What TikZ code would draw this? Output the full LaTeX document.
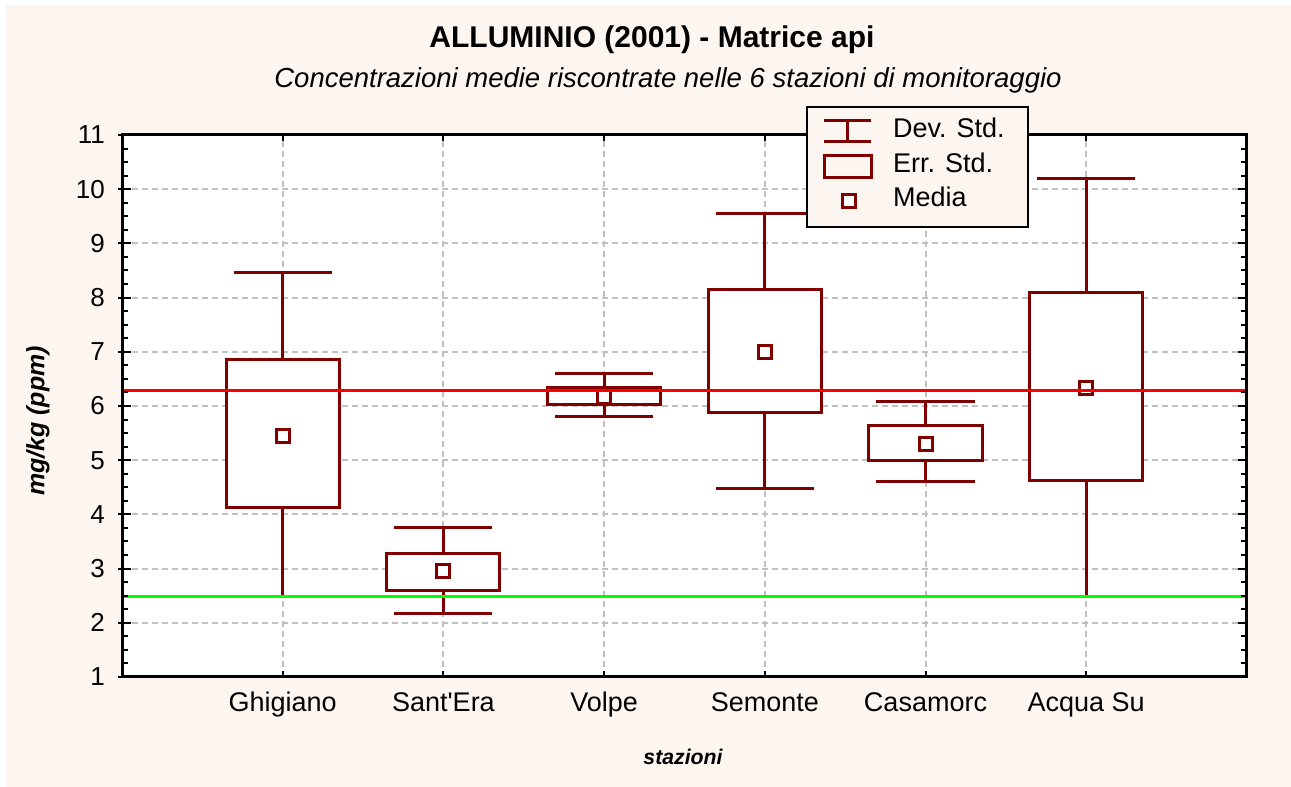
\documentclass[tikz,border=0pt]{standalone}
\usepackage{fontspec}
\setmainfont{Liberation Sans}
\usepackage{tikz}
\usetikzlibrary{positioning}
\definecolor{boxred}{HTML}{800000}
\definecolor{panel}{HTML}{FDF6F0}
\definecolor{gridgray}{HTML}{C0C0C0}
\definecolor{limitgreen}{HTML}{00FF00}
\newcommand{\TitleFont}{\fontsize{30}{34}\selectfont\bfseries}
\newcommand{\SubFont}{\fontsize{27.5}{32}\selectfont\itshape}
\newcommand{\LabelFont}{\fontsize{27}{32}\selectfont}
\newcommand{\TickFont}{\fontsize{26}{31}\selectfont}
\newcommand{\AxisFont}{\fontsize{25}{30}\selectfont\bfseries\itshape}

\begin{document}
\begin{tikzpicture}[x=1pt,y=1pt,
    stat/.style={boxred, line width=3pt},
    gridline/.style={gridgray, line width=2pt, dash pattern=on 6pt off 4pt},
    mean/.style={draw=boxred, line width=3pt, fill=white, minimum size=13pt, inner sep=0pt},
    lbl/.style={font=\LabelFont, inner sep=0pt}]
        \useasboundingbox (0,0) rectangle (1291,787);
        \fill[panel] (6,0) rectangle (1291,782);
        % titles
        \node[font=\TitleFont, anchor=base] (title) at (652,739) {ALLUMINIO (2001) - Matrice api};
        \node[font=\SubFont, anchor=base] (subtitle) at (668,699) {Concentrazioni medie riscontrate nelle 6 stazioni di monitoraggio};
        \node[font=\AxisFont, rotate=90] (ylabel) at (38,366) {mg/kg (ppm)};
        \node[font=\AxisFont, scale=0.85] (xlabel) at (683,30) {stazioni};
        \begin{scope}[shift={(122pt,55.8pt)}, x=160.7pt, y=54.2pt]
        \fill[white] (0,1) rectangle (7,11);
        % draw grid
        \foreach \y in {2,...,10}
        \draw[gridline] (0,\y) -- (7,\y);
        \foreach \x in {1,...,6}
        \draw[gridline] (\x,1) -- (\x,11);
        % whiskers, boxes and means
        \foreach \x/\lo/\bb/\m/\bt/\hi in
        {1/2.48/4.13/5.45/6.85/8.47, 2/2.18/2.59/2.96/3.28/3.75, 3/5.80/6.03/6.17/6.35/6.60,
         4/4.47/5.88/6.99/8.15/9.56, 5/4.60/5.00/5.30/5.64/6.08, 6/2.49/4.62/6.33/8.10/10.20}
        {
        \draw[stat] (\x,\lo) -- (\x,\hi);
        \draw[stat] (\x-0.305,\lo) -- (\x+0.305,\lo);
        \draw[stat] (\x-0.305,\hi) -- (\x+0.305,\hi);
        \draw[stat, fill=white] (\x-0.352,\bb) rectangle (\x+0.352,\bt);
        \node[mean] (m\x) at (\x,\m) {};
        }
        % reference lines
        \draw[red, line width=3pt] (0,6.29) -- (7,6.29);
        \draw[limitgreen, line width=3pt] (0,2.49) -- (7,2.49);
        % frame and ticks
        \draw[line width=3pt] (0,1) rectangle (7,11);
        \foreach \y in {1,1.25,...,11}
        {
        \draw[line width=2pt] (0,\y) -- ++(6pt,0);
        \draw[line width=2pt] (7,\y) -- ++(-6pt,0);
        }
        \foreach \y in {1,...,11}
        {
        \draw[line width=2pt] (0,\y) ++(-4pt,0) -- ++(13pt,0);
        \draw[line width=2pt] (7,\y) -- ++(-9pt,0);
        \node[lbl, font=\TickFont, anchor=east, xshift=-17pt] (ty\y) at (0,\y) {\y};
        }
        \foreach \x/\name in {1/Ghigiano, 2/Sant\textquotesingle Era, 3/Volpe, 4/Semonte, 5/Casamorc, 6/Acqua Su}
        {
        \draw[line width=2pt] (\x,1) -- ++(0,6pt);
        \draw[line width=2pt] (\x,11) -- ++(0,-6pt);
        \node[lbl, anchor=base, yshift=-35pt] (c\x) at (\x,1) {\name};
        }
        \end{scope}
        % legend
        \draw[line width=2pt, fill=panel] (807,680) rectangle (1028,560);
        \draw[stat] (824,666) -- (871,666);
        \draw[stat] (824,645) -- (871,645);
        \draw[stat] (847.5,666) -- (847.5,645);
        \draw[stat] (824,631) rectangle (871,609);
        \node[mean] (legmean) at (849,586) {};
        \node[lbl, anchor=base west] (legdev) at (893,649) {Dev. Std.};
        \node[lbl, anchor=base west] (legerr) at (893,614) {Err. Std.};
        \node[lbl, anchor=base west] (legmed) at (893,580) {Media};
\end{tikzpicture}
\end{document}
